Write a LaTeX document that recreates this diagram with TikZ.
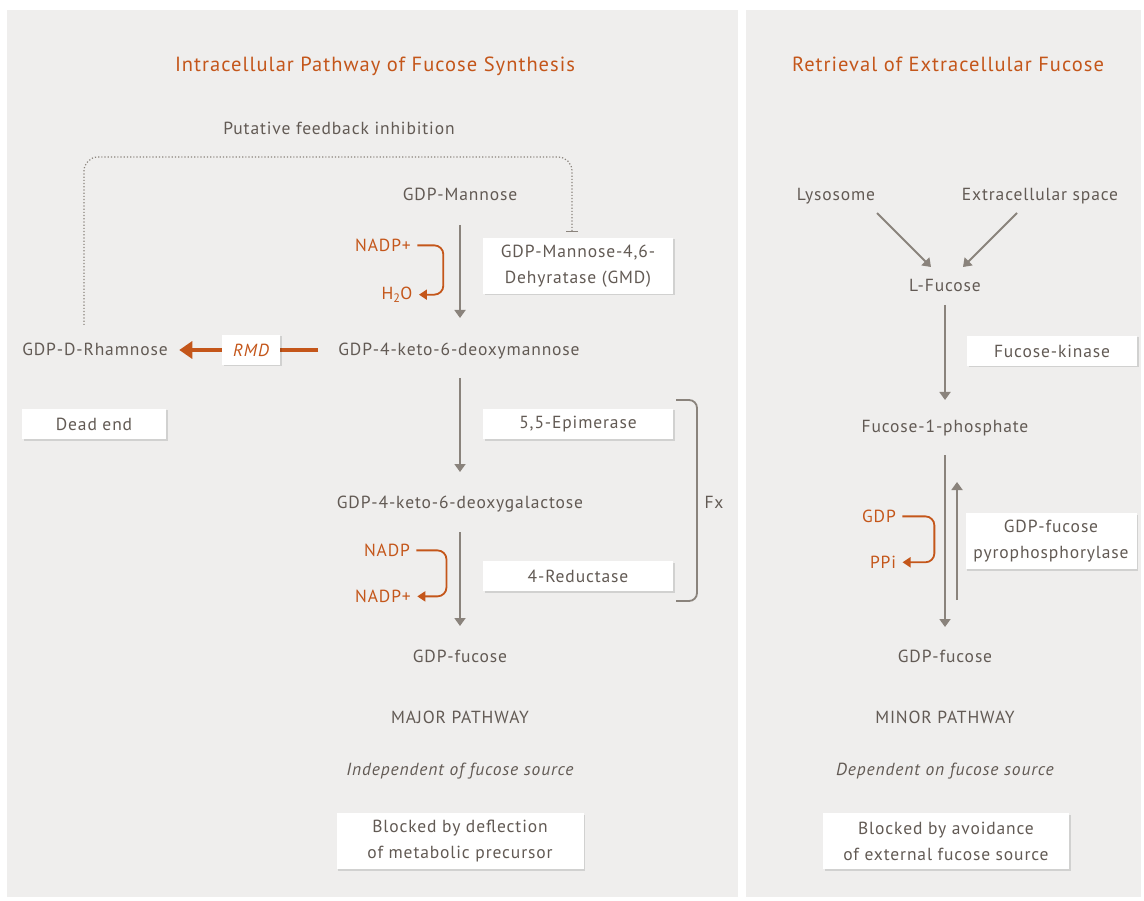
\documentclass[tikz,border=0pt]{standalone}
\usepackage{fontspec}
\setmainfont{PT Sans}[LetterSpace=5]
\usetikzlibrary{positioning,arrows.meta,shadows}
\definecolor{panelgray}{HTML}{EFEEED}
\definecolor{textgray}{HTML}{625A54}
\definecolor{arrowgray}{HTML}{8A837C}
\definecolor{fucorange}{HTML}{C4561A}
\tikzstyle{path edge}=[-{Triangle[width=11pt,length=8pt]},arrowgray,line width=1.8pt]
\tikzstyle{cofactor edge}=[-{Triangle[width=10pt,length=8pt]},fucorange,line width=1.8pt,rounded corners=9]
\tikzstyle{enzyme box}=[fill=white,align=center,inner sep=0pt,font=\fontsize{17.5}{26}\selectfont,
  drop shadow={shadow xshift=1.5pt,shadow yshift=-1.5pt,opacity=.12,fill=black}]
\tikzstyle{cofactor}=[text=fucorange]
\tikzstyle{title}=[text=fucorange,font=\fontsize{20.5}{24}\selectfont]
\newcommand{\pathnode}[4][]{
  \node [anchor=mid, #1] (#2) at (#3) {#4}
}
\newcommand{\enzymenode}[5][]{
  \node [enzyme box, minimum width=#4, #1] (#2) at (#3) {#5}
}

\begin{document}
\begin{tikzpicture}[x=1pt,y=-1pt,text=textgray,font=\fontsize{17.5}{23}\selectfont]
        \useasboundingbox (0,0) rectangle (1144,901);
        \fill[panelgray] (7,10) rectangle (738,897);
        \fill[panelgray] (746,10) rectangle (1141,897);

        % left panel
        \pathnode[title]{ltitle}{375,69}{Intracellular Pathway of Fucose Synthesis};
        \pathnode{feedback}{339,132}{Putative feedback inhibition};
        \pathnode{gdpman}{460,198}{GDP-Mannose};
        \enzymenode[minimum height=56]{gmd}{578,266}{190}{GDP-Mannose-4,6-\\Dehyratase (GMD)};
        \pathnode[cofactor]{nadpa}{383,249}{NADP+};
        \pathnode[cofactor]{water}{397,297}{H\textsubscript{2}O};
        \pathnode{keto}{459,353}{GDP-4-keto-6-deoxymannose};
        \pathnode{rham}{95,353}{GDP-D-Rhamnose};
        \enzymenode[minimum height=30]{deadend}{94,424}{144}{Dead end};
        \enzymenode[minimum height=30]{epim}{578,424}{190}{5,5-Epimerase};
        \pathnode{galac}{460,506}{GDP-4-keto-6-deoxygalactose};
        \pathnode[cofactor]{nadpb}{387,554}{NADP};
        \pathnode[cofactor]{nadpc}{383,600}{NADP+};
        \enzymenode[minimum height=30]{reduct}{578,576}{190}{4-Reductase};
        \pathnode{fx}{714,506}{Fx};
        \pathnode{gdpfuc}{460,660}{GDP-fucose};
        \pathnode{major}{460,721}{MAJOR PATHWAY};
        \pathnode[font=\fontsize{17.5}{23}\selectfont\itshape]{indep}{460,773}{Independent of fucose source};
        \enzymenode[minimum height=56]{deflect}{460,841}{247}{Blocked by deflection\\of metabolic precursor};

        % right panel
        \pathnode[title]{rtitle}{948,69}{Retrieval of Extracellular Fucose};
        \pathnode{lyso}{836,198}{Lysosome};
        \pathnode{extra}{1040,198}{Extracellular space};
        \pathnode{lfuc}{945,289}{L-Fucose};
        \enzymenode[minimum height=30]{kinase}{1052,351}{170}{Fucose-kinase};
        \pathnode{fucp}{945,430}{Fucose-1-phosphate};
        \pathnode[cofactor]{gdp}{879,520}{GDP};
        \pathnode[cofactor]{ppi}{883,566}{PPi};
        \enzymenode[minimum height=56]{pyro}{1051,541}{171}{GDP-fucose\\pyrophosphorylase};
        \pathnode{gdpfucr}{945,660}{GDP-fucose};
        \pathnode{minor}{945,721}{MINOR PATHWAY};
        \pathnode[font=\fontsize{17.5}{23}\selectfont\itshape]{dep}{945,773}{Dependent on fucose source};
        \enzymenode[minimum height=56]{avoid}{946,841}{246}{Blocked by avoidance\\of external fucose source};

        \draw[path edge] (460,225) -- (460,318);
        \draw[path edge] (460,378) -- (460,472);
        \draw[path edge] (460,532) -- (460,626);

        \draw[cofactor edge] ([xshift=3]nadpa.east) -- ++(26,0) |- ([xshift=3]water.east);
        \draw[cofactor edge] ([xshift=3]nadpb.east) -- ++(30,0) |- ([xshift=3]nadpc.east);

        \draw[fucorange,line width=3.5pt] (318,350) -- (280,350);
        \draw[fucorange,line width=3.5pt,-{Triangle[width=17pt,length=13pt]}] (222,350) -- ([xshift=8]rham.east |- 0,350);
        \enzymenode[minimum height=30]{rmd}{251,350}{58}{\textcolor{fucorange}{\itshape RMD}};

        \draw[arrowgray,line width=1.2pt,dotted,rounded corners=14,-{Bar[width=12pt]}]
            (84,325) -- (84,157) -| (572,232);

        \draw[arrowgray,line width=1.8pt,rounded corners=8] (676,400) -- (697,400) -- (697,601) -- (676,601);

        \draw[path edge] (877,213) -- (931,267);
        \draw[path edge] (1017,213) -- (963,267);
        \draw[path edge] (945,305) -- (945,400);
        \draw[path edge] (945,455) -- (945,627);
        \draw[path edge] (957,600) -- (957,482);
        \draw[cofactor edge] ([xshift=3]gdp.east) -- ++(32,0) |- ([xshift=3]ppi.east);

        \end{tikzpicture}
\end{document}
